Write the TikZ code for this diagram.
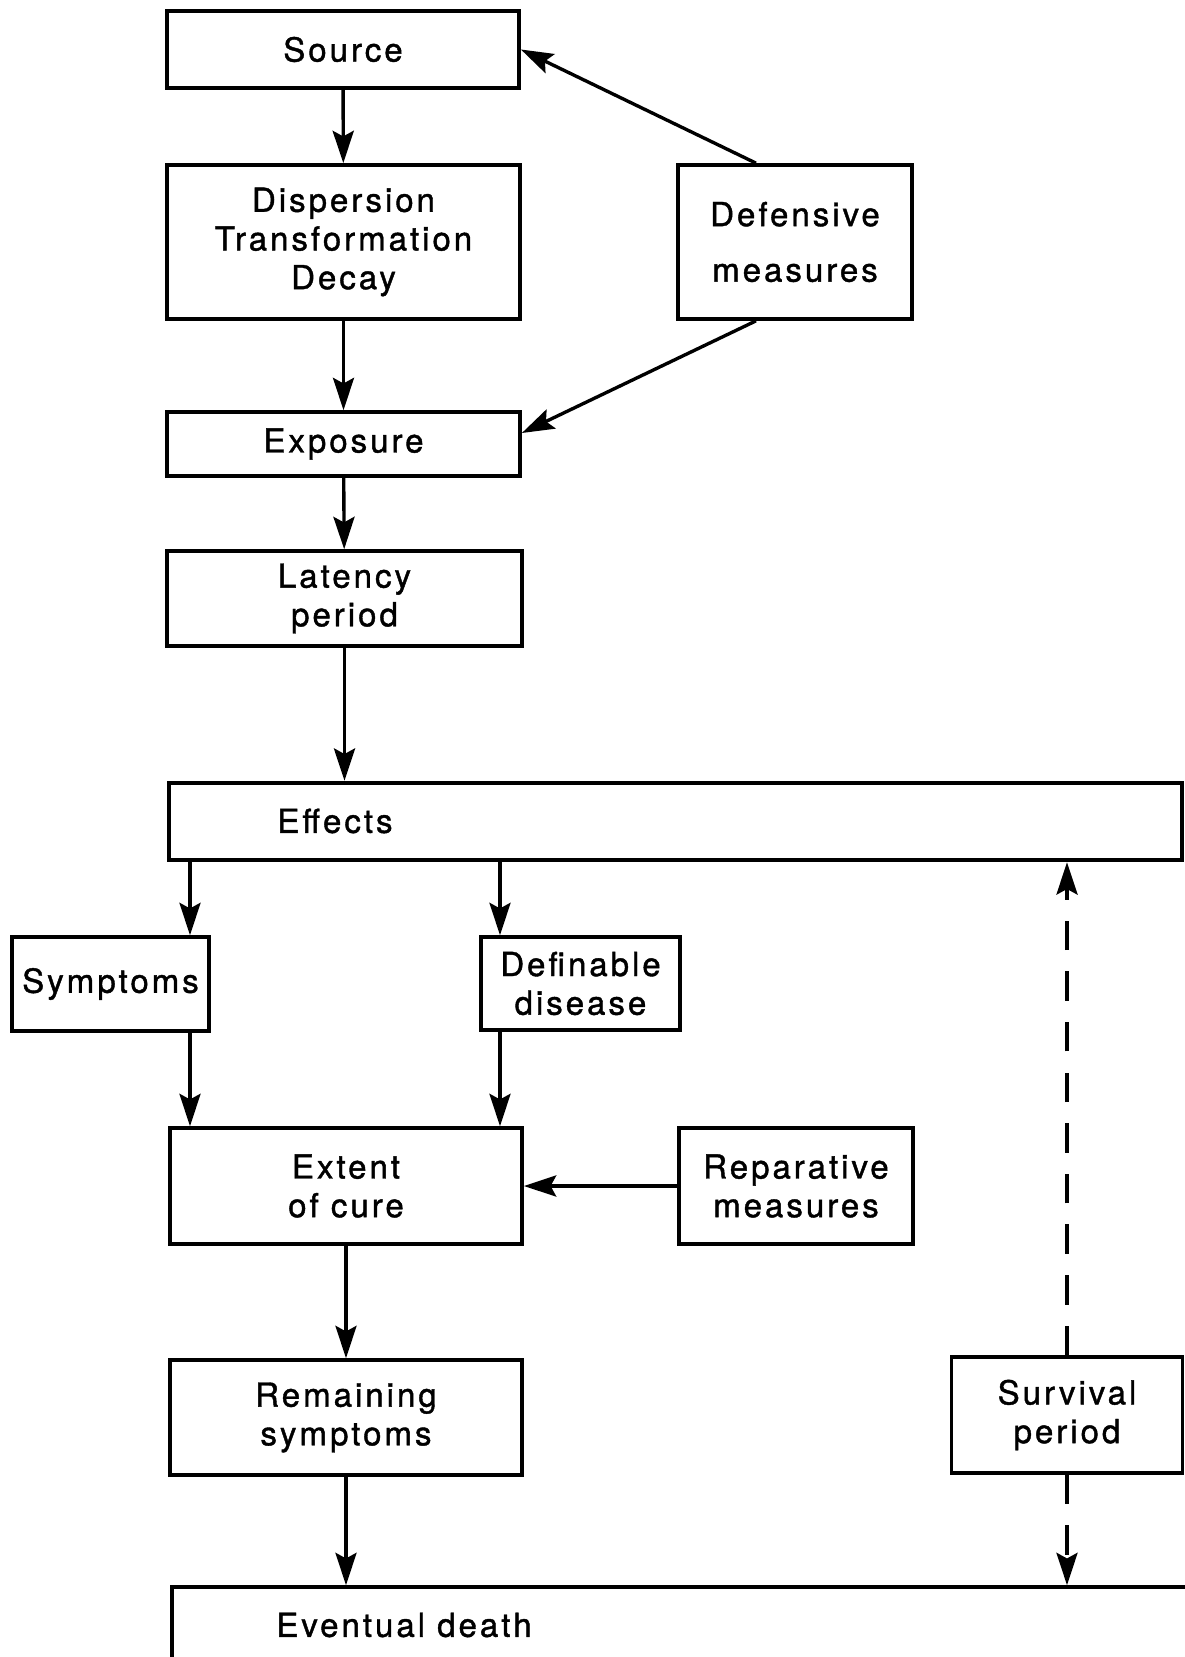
\documentclass[tikz,border=0pt]{standalone}
\usepackage{fontspec}
\setmainfont{TeX Gyre Heros}[LetterSpace=9,FakeBold=1.2]
\usepackage{tikz}
\usetikzlibrary{
    arrows.meta,
    positioning
}

\begin{document}
\begin{tikzpicture}[
    x=0.025cm,y=-0.025cm,
    font=\fontsize{23.5}{27.5}\selectfont,
    box/.style={draw=black,line width=2.6pt,inner sep=0pt,align=center},
    wide box/.style={box,line width=3.2pt},
    flow/.style={-{Stealth[length=23pt,width=15pt,inset=4pt]},line width=2.4pt},
    survive/.style={flow,dash pattern=on 21pt off 15pt}
]
    \useasboundingbox (0,0) rectangle (1184,1657);

    % Main chain from source to effects.
    \node[box,minimum width=8.8cm,minimum height=1.925cm]   (source)   at (343,49.5)  {Source};
    \node[box,minimum width=8.825cm,minimum height=3.85cm]  (disp)     at (343.5,242) {Dispersion\\Transformation\\Decay};
    \node[box,minimum width=5.85cm,minimum height=3.85cm]   (defense)  at (795,242)   {Defensive\\[12pt]measures};
    \node[box,minimum width=8.825cm,minimum height=1.6cm]   (exposure) at (343.5,444) {Exposure};
    \node[box,minimum width=8.875cm,minimum height=2.375cm] (latency)  at (344.5,598.5) {Latency\\period};

    \node[wide box,minimum width=25.325cm,minimum height=1.925cm] (effects) at (675.5,821.5) {};
    \node (effectslabel) at (335,821) {Effects};

    % Effects and their outcome.
    \node[box,minimum width=4.925cm,minimum height=2.35cm]  (symptoms) at (110.5,984)  {Symptoms};
    \node[box,minimum width=4.975cm,minimum height=2.325cm] (disease)  at (580.5,983.5) {Definable\\disease};
    \node[box,minimum width=8.8cm,minimum height=2.9cm]     (cure)     at (346,1186)   {Extent\\of cure};
    \node[box,minimum width=5.85cm,minimum height=2.9cm]    (repair)   at (796,1186)   {Reparative\\measures};
    \node[box,minimum width=8.8cm,minimum height=2.875cm]   (remain)   at (346,1417.5) {Remaining\\symptoms};
    \node[box,minimum width=5.775cm,minimum height=2.9cm]   (survival) at (1067,1415)  {Survival\\period};

    \node[box,minimum width=28.2cm,minimum height=4cm] (death) at (736,1667) {};
    \node (deathlabel) at (404,1625) {Eventual death};

    \coordinate (symcol) at (190,0);
    \coordinate (discol) at (500,0);

    \draw[flow] (source) -- (disp);
    \draw[flow] (disp) -- (exposure);
    \draw[flow] (exposure) -- (latency);
    \draw[flow] (latency) -- (effects.north -| latency.south);
    \draw[flow] ([xshift=-0.975cm]defense.north) -- (source.east);
    \draw[flow] ([xshift=-0.975cm]defense.south) -- ([yshift=0.275cm]exposure.east);

    \draw[flow] (effects.south -| symcol) -- (symptoms.north -| symcol);
    \draw[flow] (effects.south -| discol) -- (disease.north -| discol);
    \draw[flow] (symptoms.south -| symcol) -- (cure.north -| symcol);
    \draw[flow] (disease.south -| discol) -- (cure.north -| discol);
    \draw[flow] (repair) -- (cure);
    \draw[flow] (cure) -- (remain);
    \draw[flow] (remain) -- (remain.south |- death.north);

    \draw[survive] (survival) -- (survival.north |- effects.south);
    \draw[survive] (survival) -- (survival.south |- death.north);
\end{tikzpicture}
\end{document}
